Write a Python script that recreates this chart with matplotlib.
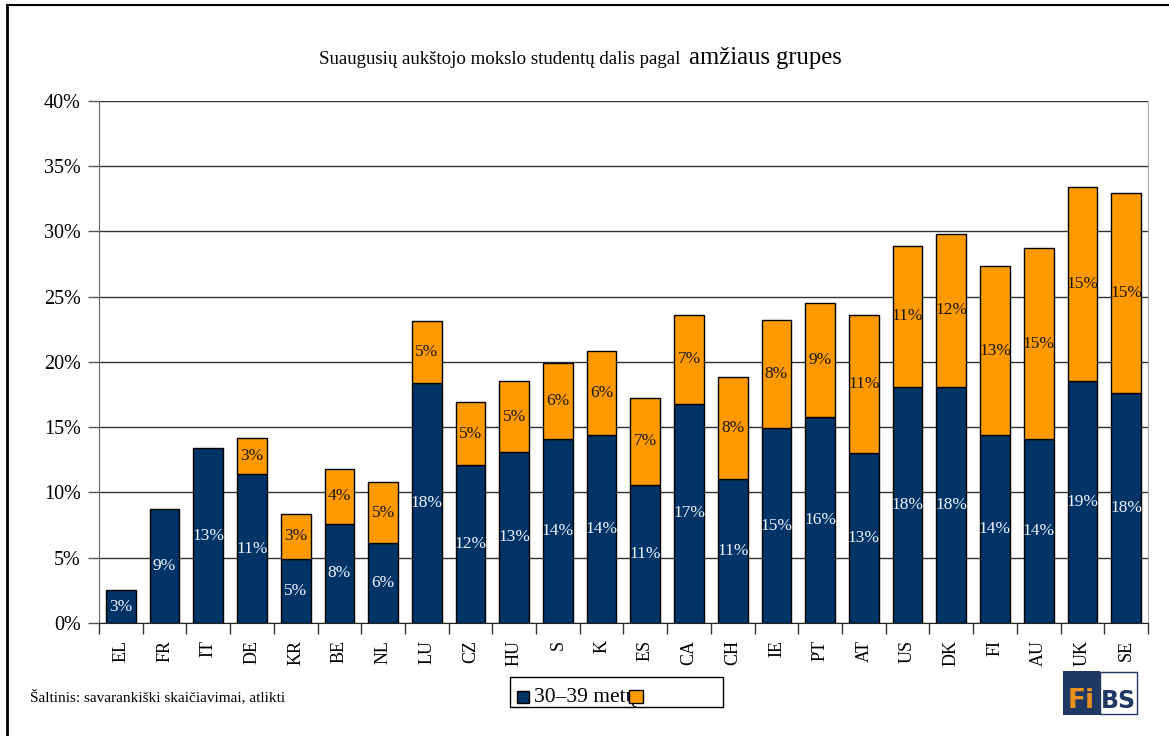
import numpy as np
import matplotlib
matplotlib.use("Agg")
import matplotlib.pyplot as plt
from matplotlib.patches import Rectangle
from matplotlib.lines import Line2D

countries = ['EL', 'FR', 'IT', 'DE', 'KR', 'BE', 'NL', 'LU', 'CZ', 'HU', 'S', 'K',
             'ES', 'CA', 'CH', 'IE', 'PT', 'AT', 'US', 'DK', 'FI', 'AU', 'UK', 'SE']
age_30_39 = [2.5, 8.7, 13.4, 11.4, 4.9, 7.6, 6.1, 18.4, 12.1, 13.1, 14.1, 14.4,
             10.6, 16.8, 11.0, 14.9, 15.8, 13.0, 18.1, 18.1, 14.4, 14.1, 18.5, 17.6]
age_40_plus = [0, 0, 0, 2.8, 3.45, 4.2, 4.7, 4.7, 4.8, 5.4, 5.8, 6.45,
               6.6, 6.8, 7.8, 8.3, 8.7, 10.6, 10.8, 11.7, 12.9, 14.6, 14.9, 15.3]
legend_label = '30\u201339 metų'
yticks = [0, 5, 10, 15, 20, 25, 30, 35, 40]

NAVY = '#003366'
ORANGE = '#FF9900'
SERIF = 'Liberation Serif'

fig = plt.figure(figsize=(11.69, 7.36), dpi=100)
ax = fig.add_axes([0.0847, 0.1535, 0.8973, 0.7098])

x = np.arange(len(countries))
b1 = ax.bar(x, age_30_39, width=0.68, color=NAVY, edgecolor='black', linewidth=1, zorder=3)
b2 = ax.bar(x, age_40_plus, width=0.68, bottom=age_30_39, color=ORANGE,
            edgecolor='black', linewidth=1, zorder=3)
# no outline for the empty orange segments
for r, v in zip(b2, age_40_plus):
    if v == 0:
        r.set_visible(False)

lab1 = ['%d%%' % int(v + 0.5) for v in age_30_39]
lab2 = ['%d%%' % int(v + 0.5) if v > 0 else '' for v in age_40_plus]
ax.bar_label(b1, labels=lab1, label_type='center', color='#eef2f8',
             fontsize=12.5, family=SERIF, zorder=4)
ax.bar_label(b2, labels=lab2, label_type='center', color='#1a1a1a',
             fontsize=12.5, family=SERIF, zorder=4)

ax.set_xlim(-0.5, len(countries) - 0.5)
ax.set_ylim(0, 40)
ax.set_yticks(yticks)
ax.set_yticklabels(['%d%%' % t for t in yticks], family=SERIF, fontsize=14.5)
ax.yaxis.grid(True, color='#333333', linewidth=1)
ax.set_axisbelow(True)
ax.tick_params(axis='y', length=8, width=1, color='#555555', pad=5)

ax.set_xticks(x)
ax.set_xticklabels(countries, rotation=90, family=SERIF, fontsize=13)
ax.set_xticks(np.arange(-0.5, len(countries)), minor=True)
ax.tick_params(axis='x', which='major', length=0, pad=12)
ax.tick_params(axis='x', which='minor', length=8, width=1, color='#333333')

ax.spines['top'].set_visible(False)
ax.spines['left'].set_color('#666666')
ax.spines['right'].set_color('#aaaaaa')
ax.spines['bottom'].set_color('#222222')

# title in two sizes
fig.text(0.586, 0.913, 'Suaugusių aukštojo mokslo studentų dalis pagal ', ha='right',
         va='baseline', family=SERIF, fontsize=13.6)
fig.text(0.589, 0.913, 'amžiaus grupes', ha='left', va='baseline',
         family=SERIF, fontsize=17.7)

fig.text(0.026, 0.047, 'Šaltinis: savarankiški skaičiavimai, atlikti', ha='left',
         va='baseline', family=SERIF, fontsize=11)

# legend box (as drawn in the original, orange key overlapping the text)
W, H = 1169.0, 736.0
def px(x0, y0, w, h, **kw):
    return Rectangle((x0 / W, 1 - (y0 + h) / H), w / W, h / H,
                     transform=fig.transFigure, **kw)
fig.patches.append(px(510, 677, 213, 30, facecolor='white', edgecolor='black', linewidth=1))
fig.patches.append(px(517, 691, 12, 12, facecolor=NAVY, edgecolor='black', linewidth=1))
fig.text(534 / W, 1 - 702 / H, legend_label, ha='left', va='baseline',
         family=SERIF, fontsize=15.5)
fig.patches.append(px(629, 690, 14, 13, facecolor=ORANGE, edgecolor='black', linewidth=1, zorder=5))

# FiBS logo
fig.patches.append(px(1063, 671, 37, 44, facecolor='#1f3864', edgecolor='none'))
fig.patches.append(px(1100, 672, 37, 42, facecolor='white', edgecolor='#1f3864', linewidth=1))
fig.text(1081 / W, 1 - 708 / H, 'Fi', ha='center', va='baseline', color='#e8911e',
         family='DejaVu Sans Condensed', fontweight='bold', fontsize=19)
fig.text(1118 / W, 1 - 708 / H, 'BS', ha='center', va='baseline', color='#1f3864',
         family='DejaVu Sans Condensed', fontweight='bold', fontsize=17)

# outer frame (left and top edges)
fig.add_artist(Line2D([7 / W, 7 / W], [0, 1 - 5 / H], transform=fig.transFigure,
                      color='black', linewidth=2))
fig.add_artist(Line2D([7 / W, 1], [1 - 5 / H, 1 - 5 / H], transform=fig.transFigure,
                      color='black', linewidth=1.5))

fig.savefig('out.png', dpi=100)
